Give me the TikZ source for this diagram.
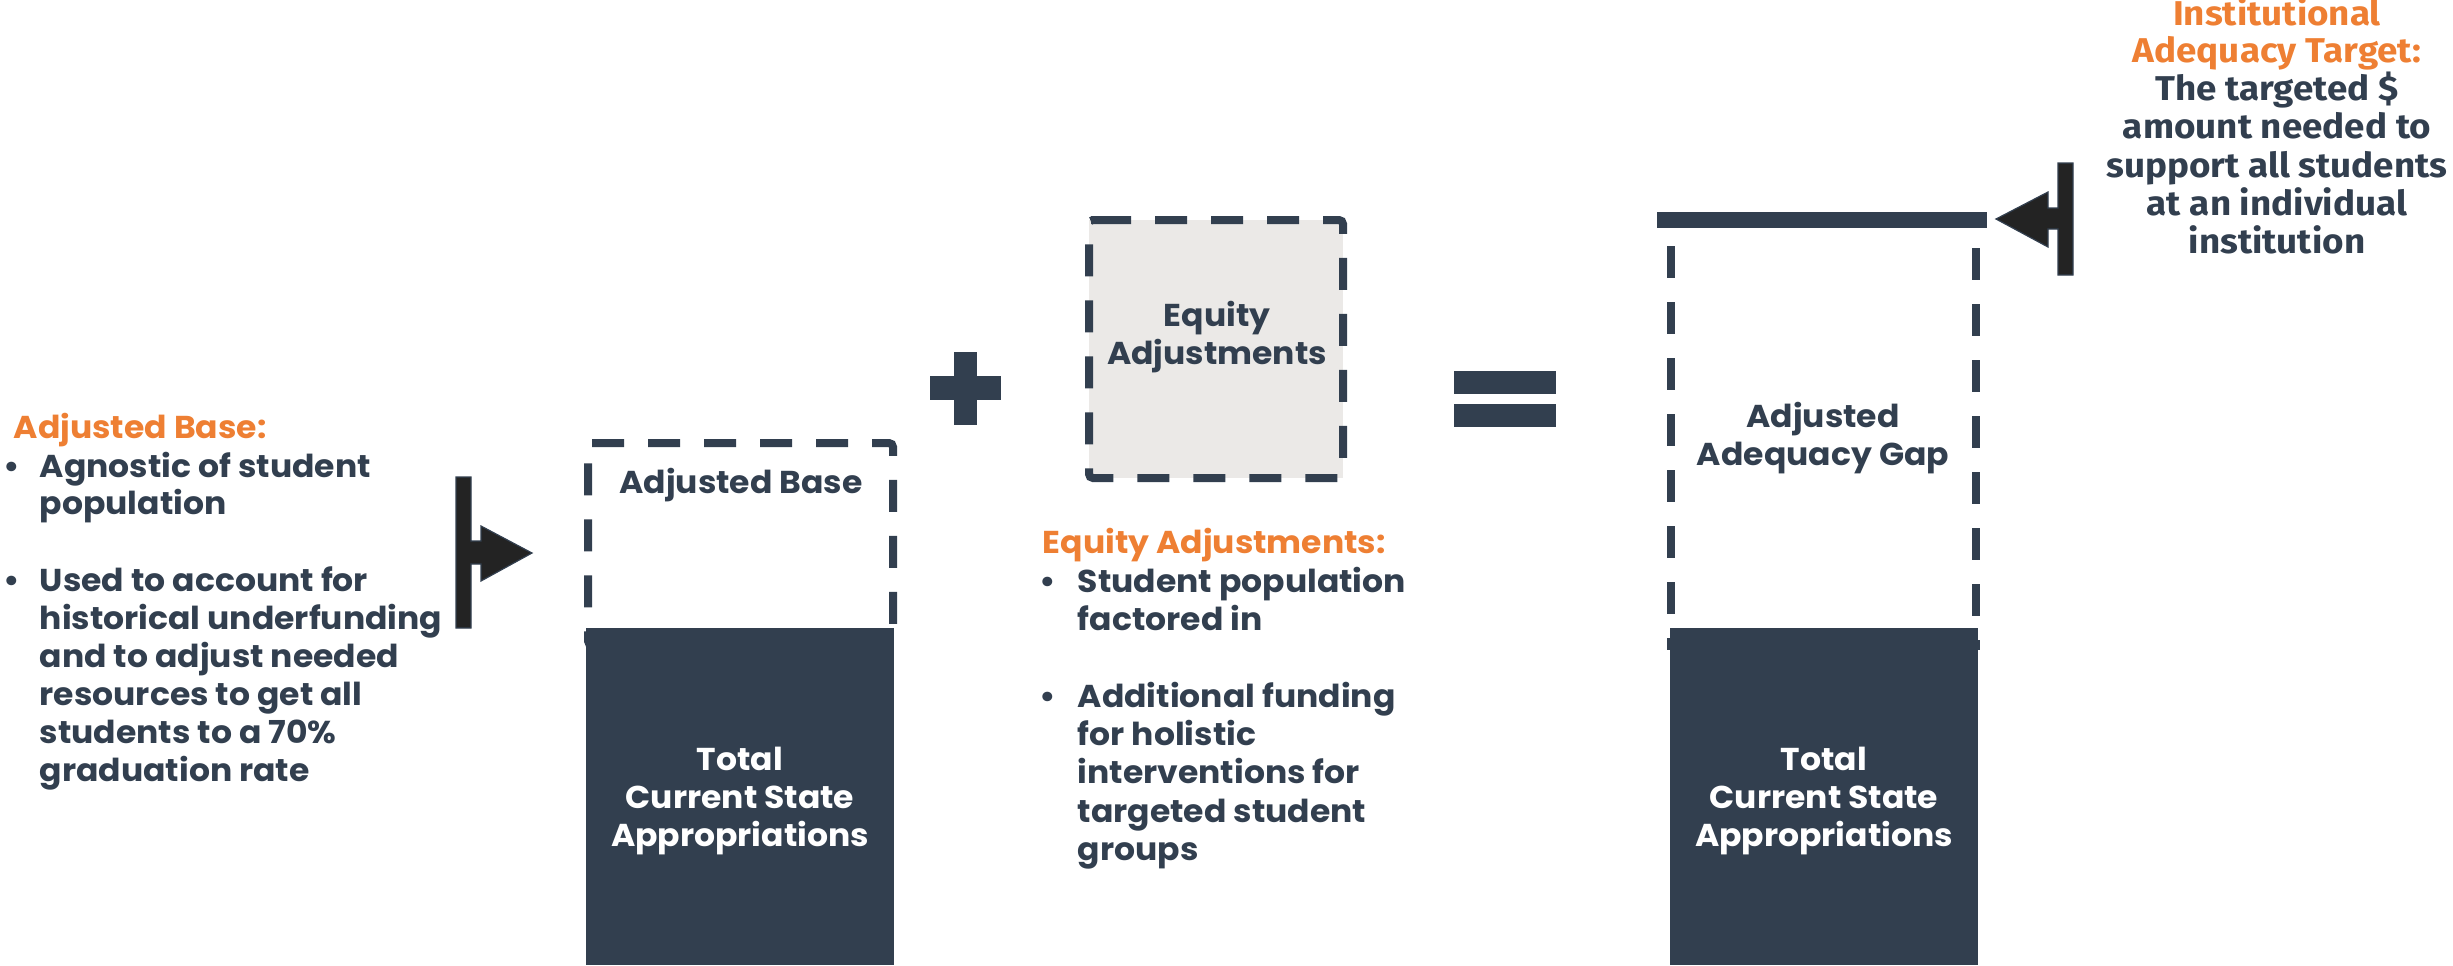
\documentclass[tikz,border=0pt]{standalone}
\usepackage{fontspec}
\setmainfont{Poppins}[FakeStretch=1.045]
\newfontfamily\narrowfont{Fira Sans}[FakeStretch=1.07]
\definecolor{ink}{HTML}{323F4F}
\definecolor{orng}{HTML}{EE7F33}
\definecolor{arr}{HTML}{232323}
\definecolor{eqfill}{HTML}{EBE9E7}
\newcommand\fs{\fontsize{7.9}{9.5}\selectfont\bfseries}
\newcommand\nfs{\narrowfont\fontsize{8.6}{9.5}\selectfont\bfseries}
\begin{document}
\begin{tikzpicture}[x=0.25pt,y=-0.25pt,
  txt/.style={inner sep=0pt,text=ink,font=\fs},
  ttl/.style={inner sep=0pt,text=orng,font=\fs},
  wtxt/.style={inner sep=0pt,text=white,font=\fs},
  ntxt/.style={inner sep=0pt,text=ink,font=\nfs},
  nttl/.style={inner sep=0pt,text=orng,font=\nfs},
  dashbox/.style={draw=ink,line width=2pt,dash pattern=on 8pt off 6pt,rounded corners=1pt},
  darkbox/.style={fill=ink},
  pointer/.style={fill=arr,draw=ink,line width=0.3pt},
  glyph/.style={fill=ink}]
\useasboundingbox (0,0) rectangle (2453,965);

% ---------- left description ----------
\node[ttl,anchor=base west] (abt) at (13,438) {Adjusted Base:};
\node[txt,anchor=base west] (ab1) at (3,477) {\textbullet};
\node[txt,anchor=base west] (a1) at (39,477) {Agnostic of student};
\node[txt,anchor=base west] (a2) at (39,514) {population};
\node[txt,anchor=base west] (ab2) at (3,591) {\textbullet};
\node[txt,anchor=base west] (a3) at (39,591) {Used to account for};
\node[txt,anchor=base west] (a4) at (39,629) {historical underfunding};
\node[txt,anchor=base west] (a5) at (39,667) {and to adjust needed};
\node[txt,anchor=base west] (a6) at (39,705) {resources to get all};
\node[txt,anchor=base west] (a7) at (39,743) {students to a 70\%};
\node[txt,anchor=base west] (a8) at (39,781) {graduation rate};

% left pointer
\draw[pointer] (456,477) -- (471,477) -- (471,541) -- (481,541) -- (481,526) -- (532,553)
  -- (481,581) -- (481,564) -- (471,564) -- (471,628) -- (456,628) -- cycle;

% ---------- left column ----------
\draw[dashbox] (588,443) -- (893,443) -- (893,645) -- (588,645) -- cycle;
\node[txt,anchor=base] (abl) at (741,493) {Adjusted Base};
\fill[darkbox] (586,628) rectangle (894,965);
\node[wtxt,anchor=base] (t1) at (740,770) {Total};
\node[wtxt,anchor=base] (t2) at (740,808) {Current State};
\node[wtxt,anchor=base] (t3) at (740,846) {Appropriations};

% plus
\fill[glyph] (930,376) rectangle (1001,400);
\fill[glyph] (954,352) rectangle (977,425);

% ---------- equity box ----------
\fill[eqfill] (1089,220) rectangle (1343,478);
\draw[dashbox] (1095,220) -- (1343,220) -- (1343,478) -- (1089,478) -- (1089,220) -- cycle;
\node[txt,anchor=base] (e1) at (1217,326) {Equity};
\node[txt,anchor=base] (e2) at (1217,364) {Adjustments};

% equity description
\node[ttl,anchor=base west] (eqt) at (1042,553) {Equity Adjustments:};
\node[txt,anchor=base west] (eb1) at (1039,592) {\textbullet};
\node[txt,anchor=base west] (q1) at (1077,592) {Student population};
\node[txt,anchor=base west] (q2) at (1077,630) {factored in};
\node[txt,anchor=base west] (eb2) at (1039,707) {\textbullet};
\node[txt,anchor=base west] (q3) at (1077,707) {Additional funding};
\node[txt,anchor=base west] (q4) at (1077,745) {for holistic};
\node[txt,anchor=base west] (q5) at (1077,783) {interventions for};
\node[txt,anchor=base west] (q6) at (1077,822) {targeted student};
\node[txt,anchor=base west] (q7) at (1077,860) {groups};

% equals
\fill[glyph] (1454,371) rectangle (1556,394);
\fill[glyph] (1454,404) rectangle (1556,427);

% ---------- right column ----------
\draw[ink,line width=4pt] (1657,220) -- (1987,220);
\draw[dashbox] (1671,246) -- (1671,650);
\draw[dashbox] (1976,248) -- (1976,650);
\node[txt,anchor=base] (g1) at (1823,427) {Adjusted};
\node[txt,anchor=base] (g2) at (1823,465) {Adequacy Gap};
\fill[darkbox] (1670,628) rectangle (1978,965);
\node[wtxt,anchor=base] (r1) at (1824,770) {Total};
\node[wtxt,anchor=base] (r2) at (1824,808) {Current State};
\node[wtxt,anchor=base] (r3) at (1824,846) {Appropriations};

% right pointer
\draw[pointer] (2073,163) -- (2058,163) -- (2058,208) -- (2048,208) -- (2048,192) -- (1996,219)
  -- (2048,247) -- (2048,229) -- (2058,229) -- (2058,275) -- (2073,275) -- cycle;

% right description
\node[nttl,anchor=base] (it1) at (2277,25) {Institutional};
\node[nttl,anchor=base] (it2) at (2277,62) {Adequacy Target:};
\node[ntxt,anchor=base] (i1) at (2277,100) {The targeted \$};
\node[ntxt,anchor=base] (i2) at (2277,138) {amount needed to};
\node[ntxt,anchor=base] (i3) at (2277,177) {support all students};
\node[ntxt,anchor=base] (i4) at (2277,215) {at an individual};
\node[ntxt,anchor=base] (i5) at (2277,253) {institution};
\end{tikzpicture}
\end{document}
